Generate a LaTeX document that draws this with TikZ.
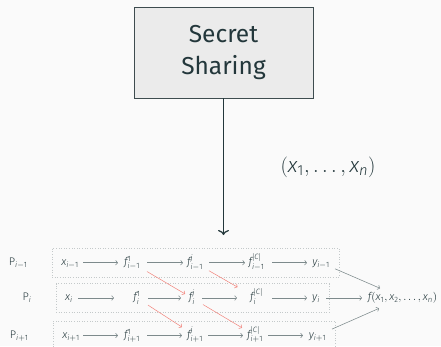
\documentclass[tikz,border=0pt]{standalone}
\usepackage{mathspec}
\setmainfont{Fira Sans}
\setmathsfont(Digits,Latin,Greek){Fira Sans Light}
\newfontfamily\lightfont{Fira Sans Light}
\usetikzlibrary{arrows.meta,fit,calc}

\definecolor{mDark}{HTML}{23373B}
\definecolor{bggray}{HTML}{FAFAFA}
\definecolor{boxfill}{HTML}{EBEBEB}
\definecolor{boxborder}{HTML}{3E4C4F}
\definecolor{arrowgray}{HTML}{7D8A8C}
\definecolor{xred}{HTML}{F2837B}
\definecolor{dotgray}{HTML}{C4C9CA}

% horizontal step arrow between two cells of a row
\newcommand\harr[4]{\draw[rowarrow, shorten <=#3pt, shorten >=#4pt] (#1.center) -- (#2.center);}
% cross arrow between rows
\newcommand\xarr[4]{\draw[crossarrow, shorten <=#3pt, shorten >=#4pt] (#1.center) -- (#2.center);}

\begin{document}
\begin{tikzpicture}[x=1pt,y=-1pt,
  every node/.style={text=mDark, inner sep=0pt},
  cell/.style={font=\lightfont\fontsize{11}{13}\selectfont, text height=9.5pt, text depth=4pt},
  rowarrow/.style={draw=arrowgray, line width=0.55pt, -{To[length=2.6pt,width=5pt]}},
  crossarrow/.style={draw=xred, line width=0.5pt, -{To[length=2.6pt,width=5pt]}},
  rowbox/.style={draw=dotgray, dotted, line width=0.6pt, inner xsep=9pt, inner ysep=7.5pt},
  bigarrow/.style={draw=mDark, line width=1.2pt, -{To[length=5pt,width=11pt]}},
]
\fill[bggray] (0,0) rectangle (441,346);
\useasboundingbox (0,0) rectangle (441,346);

% secret sharing box and its output arrow
\node[draw=boxborder, fill=boxfill, line width=0.8pt, minimum width=179pt,
      minimum height=91pt, align=center, font=\fontsize{24.5}{32}\selectfont]
      (ss) at (223.5,52.5) {Secret\\Sharing};
\coordinate (ssend) at (223.5,235);
\draw[bigarrow] (ss.south) -- (ssend);
\node[font=\fontsize{21}{25}\selectfont] (tuple) at (328,167) {$(x_1,\ldots,x_n)$};

% row of party i-1
\node[cell] (xa) at (70,262.7)  {$x_{i-1}$};
\node[cell] (f1a) at (132,262.7) {$f^1_{i-1}$};
\node[cell] (fja) at (195,262.7) {$f^j_{i-1}$};
\node[cell] (fca) at (256.5,262.7) {$f^{|C|}_{i-1}$};
\node[cell] (ya) at (321,262.7) {$y_{i-1}$};

% row of party i
\node[cell] (xb) at (69,298)  {$x_{i}$};
\node[cell] (f1b) at (137,298) {$f^1_{i}$};
\node[cell] (fjb) at (192,298) {$f^j_{i}$};
\node[cell] (fcb) at (256.5,298) {$f^{|C|}_{i}$};
\node[cell] (yb) at (316,298) {$y_{i}$};

% row of party i+1
\node[cell] (xc) at (71,335.5)  {$x_{i+1}$};
\node[cell] (f1c) at (132,335.5) {$f^1_{i+1}$};
\node[cell] (fjc) at (195,335.5) {$f^j_{i+1}$};
\node[cell] (fcc) at (255,335.5) {$f^{|C|}_{i+1}$};
\node[cell] (yc) at (317.5,335.5) {$y_{i+1}$};

% result
\node[cell] (res) at (402.5,298) {$f(x_1,x_2,\ldots,x_n)$};

% dotted party frames and their labels
\node[rowbox, fit=(xa)(ya)] (rowA) {};
\node[rowbox, fit=(xb)(yb)] (rowB) {};
\node[rowbox, fit=(xc)(yc)] (rowC) {};
\node[cell, anchor=east] (pa) at ($(rowA.west)+(-24,0)$) {P$_{i-1}$};
\node[cell, anchor=east] (pb) at ($(rowB.west)+(-24,0)$) {P$_{i}$};
\node[cell, anchor=east] (pc) at ($(rowC.west)+(-24,0)$) {P$_{i+1}$};

% step arrows
\harr{xa}{f1a}{13}{14}
\harr{f1a}{fja}{15}{12}
\harr{fja}{fca}{14}{11.5}
\harr{fca}{ya}{15.5}{14}

\harr{xb}{f1b}{9}{23}
\harr{f1b}{fjb}{11}{11}
\harr{fjb}{fcb}{10}{19.5}
\harr{fcb}{yb}{15.5}{9}
\harr{yb}{res}{10}{40.5}

\harr{xc}{f1c}{12}{14}
\harr{f1c}{fjc}{15}{13}
\harr{fjc}{fcc}{13}{12}
\harr{fcc}{yc}{13}{14.5}

\harr{ya}{res}{15.3}{24.5}
\harr{yc}{res}{15.8}{25.7}

% cross arrows between neighbouring parties
\xarr{f1a}{fjb}{17.4}{8.1}
\xarr{f1b}{fjc}{13.1}{15.5}
\xarr{fja}{fcb}{16.1}{21.9}
\xarr{fjb}{fcc}{12.8}{15.1}
\end{tikzpicture}
\end{document}
